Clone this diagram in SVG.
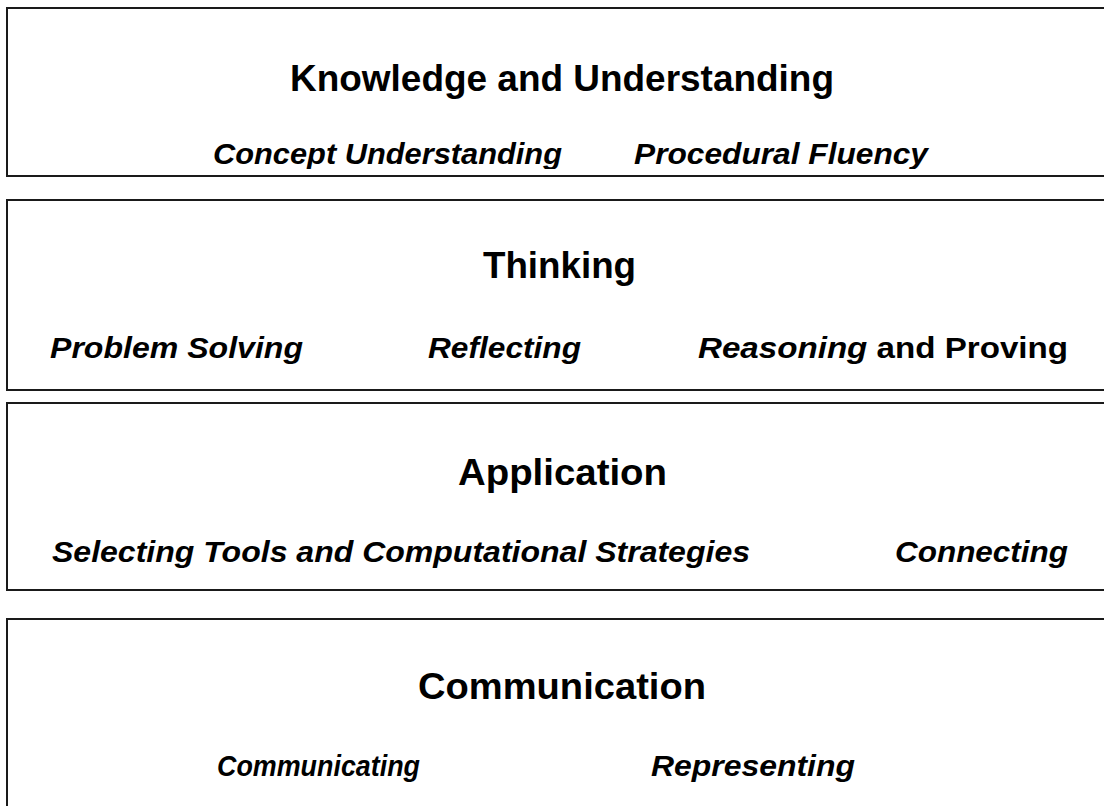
<svg xmlns="http://www.w3.org/2000/svg" width="1104" height="806" viewBox="0 0 1104 806">
<style>
.box{fill:#ffffff;stroke:#1a1a1a;stroke-width:2}
.title{font-family:"Liberation Sans",Arial,sans-serif;font-weight:bold;font-size:36px;fill:#000}
.sub{font-family:"Liberation Sans",Arial,sans-serif;font-weight:bold;font-style:italic;font-size:30px;fill:#000}
.up{font-style:normal}
</style>
<defs>
<clipPath id="clip1"><rect x="0" y="0" width="1104" height="169"/></clipPath>
</defs>
<rect x="0" y="0" width="1104" height="806" fill="#ffffff"/>
<g id="knowledge">
<rect class="box" x="7" y="8" width="1110" height="168"/>
<text class="title" x="290" y="91" textLength="544" lengthAdjust="spacingAndGlyphs">Knowledge and Understanding</text>
<g clip-path="url(#clip1)">
<text class="sub" x="213" y="164" textLength="349" lengthAdjust="spacingAndGlyphs">Concept Understanding</text>
<text class="sub" x="634" y="164" textLength="294" lengthAdjust="spacingAndGlyphs">Procedural Fluency</text>
</g>
</g>
<g id="thinking">
<rect class="box" x="7" y="200" width="1110" height="190"/>
<text class="title" x="483" y="278" textLength="153" lengthAdjust="spacingAndGlyphs">Thinking</text>
<text class="sub" x="50" y="358" textLength="253" lengthAdjust="spacingAndGlyphs">Problem Solving</text>
<text class="sub" x="428" y="358" textLength="153" lengthAdjust="spacingAndGlyphs">Reflecting</text>
<text class="sub" x="698" y="358" textLength="370" lengthAdjust="spacingAndGlyphs">Reasoning<tspan class="up"> and Proving</tspan></text>
</g>
<g id="application">
<rect class="box" x="7" y="403" width="1110" height="187"/>
<text class="title" x="458" y="485" textLength="209" lengthAdjust="spacingAndGlyphs">Application</text>
<text class="sub" x="52" y="562" textLength="698" lengthAdjust="spacingAndGlyphs">Selecting Tools and Computational Strategies</text>
<text class="sub" x="895" y="562" textLength="173" lengthAdjust="spacingAndGlyphs">Connecting</text>
</g>
<g id="communication">
<rect class="box" x="7" y="619" width="1110" height="200"/>
<text class="title" x="418" y="699" textLength="288" lengthAdjust="spacingAndGlyphs">Communication</text>
<text class="sub" x="217" y="776" textLength="203" lengthAdjust="spacingAndGlyphs">Communicating</text>
<text class="sub" x="651" y="776" textLength="204" lengthAdjust="spacingAndGlyphs">Representing</text>
</g>
<g id="connectors"></g>
</svg>
